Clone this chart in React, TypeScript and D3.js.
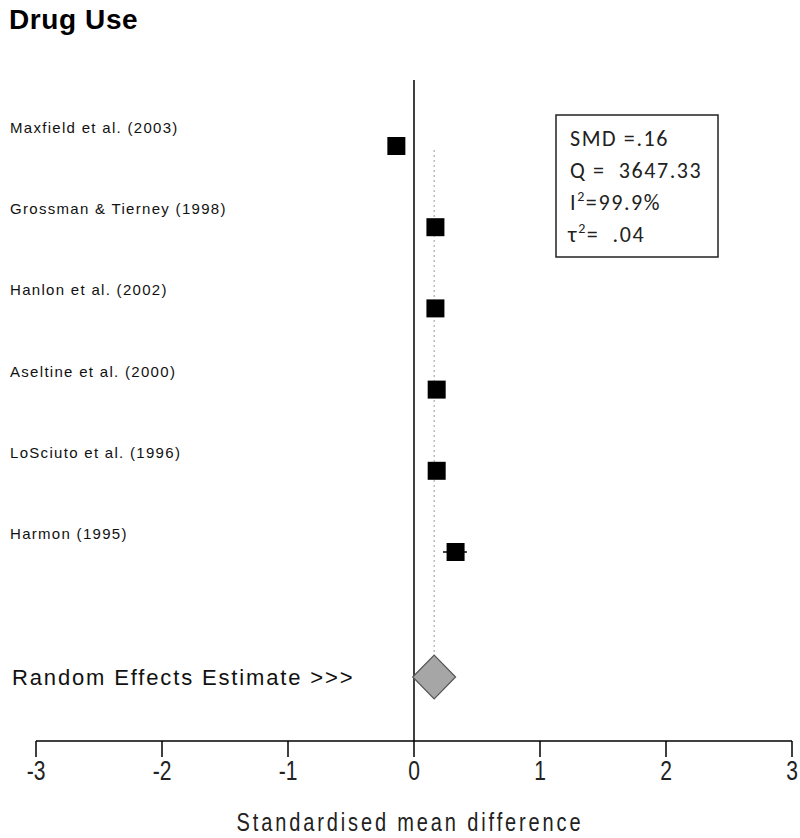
import React from "react";
import * as d3 from "d3";

const studies = [
  "Maxfield et al. (2003)",
  "Grossman & Tierney (1998)",
  "Hanlon et al. (2002)",
  "Aseltine et al. (2000)",
  "LoSciuto et al. (1996)",
  "Harmon (1995)",
];
const smd = [-0.14, 0.17, 0.17, 0.18, 0.18, 0.33];
const ciLow = [-0.15, 0.16, 0.16, 0.17, 0.17, 0.23];
const ciHigh = [-0.13, 0.18, 0.18, 0.19, 0.19, 0.42];
const pooled = 0.16;
const pooledLow = -0.01;
const pooledHigh = 0.33;
const xTicks = [-3, -2, -1, 0, 1, 2, 3];
const statLines = ["SMD =.16", "Q =  3647.33", "I²", "τ²"];

export default function App() {
  const W = 800, H = 838;
  const x = d3.scaleLinear().domain([-3, 3]).range([36, 792]);
  const rowY = d3.scalePoint<number>().domain(d3.range(studies.length)).range([146, 552]);
  const axisY = 741;
  const diamondY = 677;
  const font = "'Liberation Sans', Arial, sans-serif";
  const sq = 18;
  const dPath = `M${x(pooledLow)},${diamondY} L${x(pooled)},${diamondY - 22} L${x(pooledHigh)},${diamondY} L${x(pooled)},${diamondY + 22} Z`;
  return (
    <svg width={W} height={H} style={{ position: "absolute", left: 0, top: 0, background: "#fff" }} fontFamily={font}>
      <text x={9} y={29} fontSize={28} fontWeight="bold" letterSpacing={0.6}>Drug Use</text>
      {/* zero line */}
      <line x1={x(0)} x2={x(0)} y1={80} y2={axisY} stroke="#000" strokeWidth={1.5} />
      {/* pooled dotted line */}
      <line x1={x(pooled)} x2={x(pooled)} y1={150} y2={diamondY - 22} stroke="#999" strokeWidth={1} strokeDasharray="2,3" />
      {studies.map((s, i) => (
        <g key={s}>
          <text x={10} y={rowY(i)! - 13} fontSize={15} letterSpacing={1.3} fill="#111">{s}</text>
          <line x1={x(ciLow[i])} x2={x(ciHigh[i])} y1={rowY(i)!} y2={rowY(i)!} stroke="#000" strokeWidth={1.5} />
          <rect x={x(smd[i]) - sq / 2} y={rowY(i)! - sq / 2} width={sq} height={sq} fill="#000" />
        </g>
      ))}
      <path d={dPath} fill="#a6a6a6" stroke="#555" strokeWidth={1.2} />
      <text x={12} y={diamondY + 8} fontSize={22} letterSpacing={1.85} fill="#111">Random Effects Estimate &gt;&gt;&gt;</text>
      {/* stats box */}
      <rect x={556} y={115} width={162} height={142} fill="#fff" stroke="#222" strokeWidth={1.5} />
      <g fontFamily="Carlito, Lato, 'Open Sans', sans-serif" fontSize={22} letterSpacing={1.6} fill="#222">
        <text x={570} y={146}>{statLines[0]}</text>
        <text x={570} y={178} xmlSpace="preserve">{statLines[1]}</text>
        <text x={570} y={210}>I<tspan dy={-9} fontSize={14}>2</tspan><tspan dy={9}>=99.9%</tspan></text>
        <text x={568} y={242} xmlSpace="preserve">τ<tspan dy={-9} fontSize={14}>2</tspan><tspan dy={9}>=  .04</tspan></text>
      </g>
      {/* axis */}
      <line x1={x(-3)} x2={x(3)} y1={axisY} y2={axisY} stroke="#000" strokeWidth={1.5} />
      {xTicks.map((t) => (
        <g key={t}>
          <line x1={x(t)} x2={x(t)} y1={axisY} y2={axisY + 16} stroke="#000" strokeWidth={1.5} />
          <text transform={`translate(${x(t)},${axisY + 39}) scale(0.78,1)`} fontSize={27} textAnchor="middle" fill="#222">{t}</text>
        </g>
      ))}
      <text transform={`translate(${x(0) - 4},${831}) scale(0.8,1)`} fontSize={25} letterSpacing={3.6} textAnchor="middle" fill="#222">Standardised mean difference</text>
    </svg>
  );
}
